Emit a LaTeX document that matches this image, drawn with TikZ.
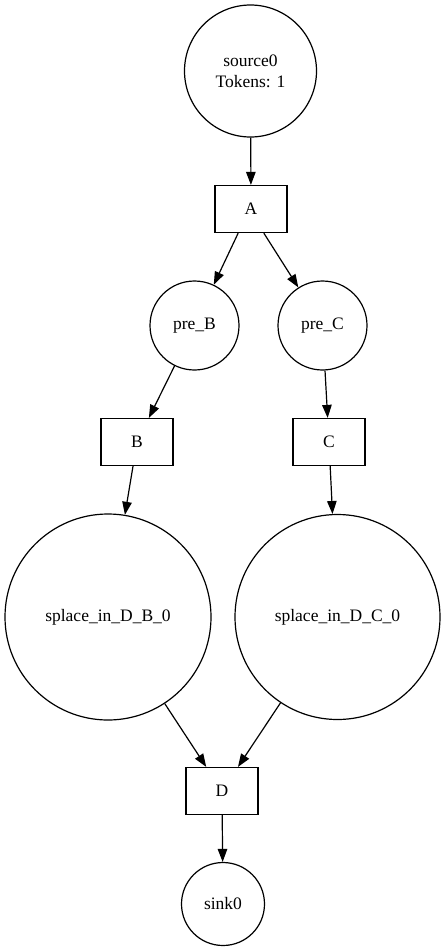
\documentclass[tikz,border=0pt]{standalone}
\usepackage{fontspec}
\setmainfont{Liberation Serif}
\usetikzlibrary{arrows.meta}
\begin{document}
\begin{tikzpicture}[x=1pt,y=-1pt,
  place/.style={draw, circle, line width=1.2pt, inner sep=0pt, font=\fontsize{17.5}{21}\selectfont, align=center},
  trans/.style={draw, rectangle, line width=1.2pt, inner sep=0pt, minimum width=72pt, minimum height=47pt, font=\fontsize{17.5}{21}\selectfont},
  arc/.style={line width=1.2pt, -{Triangle[length=13pt,width=9.5pt]}}]
\useasboundingbox (0,0) rectangle (445,951);
\node[place, minimum size=132pt] (source0) at (250.5,71) {source0\\Tokens: 1};
\node[trans] (A) at (251,209) {A};
\node[place, minimum size=89pt] (preB) at (194.5,325.5) {pre\_B};
\node[place, minimum size=89pt] (preC) at (322.5,325.5) {pre\_C};
\node[trans] (B) at (137,442) {B};
\node[trans] (C) at (329,442) {C};
\node[place, minimum size=206pt] (splB) at (108,617) {splace\_in\_D\_B\_0};
\node[place, minimum size=205pt] (splC) at (337.5,617) {splace\_in\_D\_C\_0};
\node[trans] (D) at (222,791) {D};
\node[place, minimum size=83pt] (sink0) at (223,904) {sink0};
\draw[arc] (source0) -- (A);
\draw[arc] (A.-118) -- (preB);
\draw[arc] (A.-62) -- (preC);
\draw[arc] (preB) -- (B);
\draw[arc] (preC) -- (C);
\draw[arc] (B) -- (splB);
\draw[arc] (C) -- (splC);
\draw[arc] (splB) -- (D);
\draw[arc] (splC) -- (D);
\draw[arc] (D) -- (sink0);
\end{tikzpicture}
\end{document}
